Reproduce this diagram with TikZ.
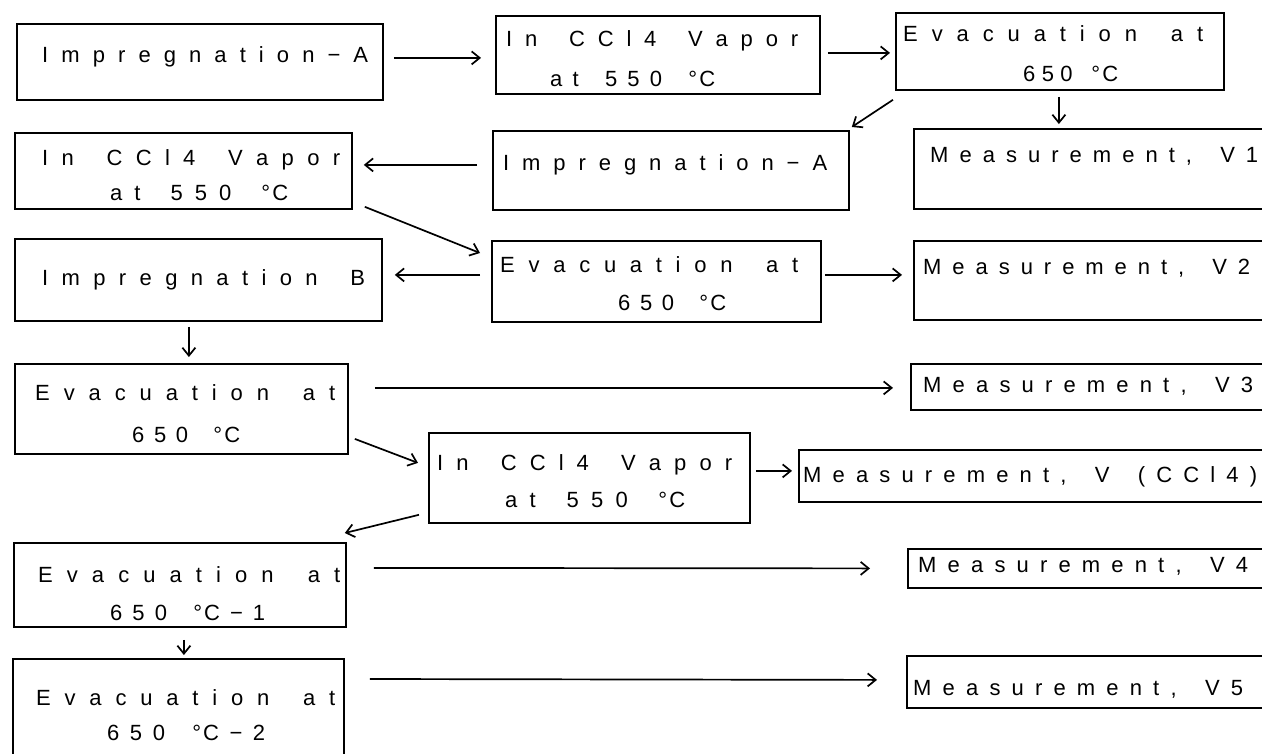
\documentclass[tikz,border=0pt]{standalone}
\usepackage{fontspec}
\setmainfont{Liberation Sans}
\usetikzlibrary{arrows.meta,calc}
\ExplSyntaxOn
\NewDocumentCommand \spreadtext { m m }
  {
    \hbox_to_wd:nn {#1}
      {
        \bool_set_true:N \l_tmpa_bool
        \tl_map_inline:nn {#2}
          {
            \bool_if:NTF \l_tmpa_bool
              { \bool_set_false:N \l_tmpa_bool }
              { \hfil }
            ##1
          }
      }
  }
\ExplSyntaxOff
\newcommand\degC{°\kern2pt C}
\begin{document}
\begin{tikzpicture}[x=1pt,y=-1pt,
  box/.style={draw,line width=1.8pt,rectangle,inner sep=0pt,anchor=north west},
  lbl/.style={anchor=base west,inner sep=0pt,font=\fontsize{22}{26}\selectfont},
  arr/.style={line width=1.7pt,-{Straight Barb[length=8pt,width=13pt,line width=1.7pt]}}]
\useasboundingbox (0,0) rectangle (1262,753);
\clip (0,0) rectangle (1262,753);
% boxes
\node[box,minimum width=366pt,minimum height=76pt] (imA1) at (16,23) {};
\node[box,minimum width=324pt,minimum height=78pt] (cclT) at (495,15) {};
\node[box,minimum width=328pt,minimum height=77pt] (evT) at (895,12) {};
\node[box,minimum width=337pt,minimum height=76pt] (ccl2) at (14,132) {};
\node[box,minimum width=356pt,minimum height=79pt] (imA2) at (492,130) {};
\node[box,minimum width=377pt,minimum height=80pt] (mV1) at (913,128) {};
\node[box,minimum width=367pt,minimum height=82pt] (imB) at (14,238) {};
\node[box,minimum width=329pt,minimum height=81pt] (ev3) at (491,240) {};
\node[box,minimum width=377pt,minimum height=79pt] (mV2) at (913,240) {};
\node[box,minimum width=333pt,minimum height=90pt] (ev4) at (14,363) {};
\node[box,minimum width=380pt,minimum height=46pt] (mV3) at (910,363) {};
\node[box,minimum width=321pt,minimum height=90pt] (ccl4) at (428,432) {};
\node[box,minimum width=492pt,minimum height=52pt] (mVc) at (798,449) {};
\node[box,minimum width=332pt,minimum height=84pt] (ev5) at (13,542) {};
\node[box,minimum width=383pt,minimum height=39pt] (mV4) at (907,548) {};
\node[box,minimum width=331pt,minimum height=132pt] (ev6) at (12,658) {};
\node[box,minimum width=384pt,minimum height=52pt] (mV5) at (906,655) {};
% texts
\node[lbl] (t1) at (42,62) {\spreadtext{326pt}{Impregnation−A}};
\node[lbl] (t2a) at (506,46) {\spreadtext{292pt}{In~CCl4~Vapor}};
\node[lbl] (t2b) at (550,86) {\spreadtext{165pt}{at~550~{\degC}}};
\node[lbl] (t3a) at (903,41) {\spreadtext{300pt}{Evacuation~at}};
\node[lbl] (t3b) at (1023,81) {\spreadtext{95pt}{650~{\degC}}};
\node[lbl] (t4a) at (42,165) {\spreadtext{298pt}{In~CCl4~Vapor}};
\node[lbl] (t4b) at (110,200) {\spreadtext{178pt}{at~550~{\degC}}};
\node[lbl] (t5) at (503,170) {\spreadtext{324pt}{Impregnation−A}};
\node[lbl] (t6) at (930,162) {\spreadtext{328pt}{Measurement,~V1}};
\node[lbl] (t7) at (42,285) {\spreadtext{323pt}{Impregnation~B}};
\node[lbl] (t8a) at (500,272) {\spreadtext{298pt}{Evacuation~at}};
\node[lbl] (t8b) at (618,310) {\spreadtext{108pt}{650~{\degC}}};
\node[lbl] (t9) at (923,274) {\spreadtext{327pt}{Measurement,~V2}};
\node[lbl] (t10a) at (35,400) {\spreadtext{300pt}{Evacuation~at}};
\node[lbl] (t10b) at (132,442) {\spreadtext{108pt}{650~{\degC}}};
\node[lbl] (t11) at (923,392) {\spreadtext{330pt}{Measurement,~V3}};
\node[lbl] (t12a) at (437,470) {\spreadtext{295pt}{In~CCl4~Vapor}};
\node[lbl] (t12b) at (505,507) {\spreadtext{180pt}{at~550~{\degC}}};
\node[lbl] (t13) at (803,482) {\spreadtext{454pt}{Measurement,~V~(CCl4)}};
\node[lbl] (t14a) at (38,582) {\spreadtext{302pt}{Evacuation~at}};
\node[lbl] (t14b) at (110,620) {\spreadtext{155pt}{650~{\degC}−1}};
\node[lbl] (t15) at (918,572) {\spreadtext{330pt}{Measurement,~V4}};
\node[lbl] (t16a) at (36,705) {\spreadtext{299pt}{Evacuation~at}};
\node[lbl] (t16b) at (107,740) {\spreadtext{158pt}{650~{\degC}−2}};
\node[lbl] (t17) at (913,695) {\spreadtext{330pt}{Measurement,~V5}};
% arrows
\draw[arr] ($(imA1.east)+(10,-4)$) -- ($(cclT.west)+(-14,3)$);
\draw[arr] ($(cclT.east)+(7,-2)$) -- ($(evT.west)+(-5,1.5)$);
\draw[arr] ($(evT.south west)+(-2,9)$) -- ($(imA2.north east)+(2,-3)$);
\draw[arr] ($(evT.south)+(-1,6)$) -- ($(evT.south |- mV1.north)+(-1,-4)$);
\draw[arr] ($(imA2.west)+(-15,-5.5)$) -- ($(ccl2.east)+(11,-6)$);
\draw[arr] ($(ccl2.south east)+(12,-3)$) -- ($(ev3.north west)+(-11,13)$);
\draw[arr] ($(ev3.west)+(-11,-6.5)$) -- ($(imB.east)+(12,-5)$);
\draw[arr] ($(ev3.east)+(3,-6.5)$) -- ($(mV2.west)+(-11,-5.5)$);
\draw[arr] ($(imB.south)+(-9.5,5)$) -- ($(imB.south |- ev4.north)+(-9.5,-6)$);
\draw[arr] ($(ev4.east)+(26,-21)$) -- ($(mV3.west)+(-17,1)$);
\draw[arr] ($(ev4.east)+(6,30)$) -- ($(ccl4.west)+(-10,-15)$);
\draw[arr] ($(ccl4.east)+(5,-7)$) -- ($(mVc.west)+(-6,-5)$);
\draw[arr] ($(ccl4.south west)+(-9,-9)$) -- ($(ev5.north east)+(-2,-9)$);
\draw[arr] ($(ev5.east)+(27,-17)$) -- ($(mV4.west)+(-37,0)$);
\draw[arr] ($(ev5.south)+(4,12)$) -- ($(ev5.south |- ev6.north)+(4,-3)$);
\draw[arr] ($(ev6.north east)+(25,21)$) -- ($(mV5.west)+(-29,-2)$);
\end{tikzpicture}
\end{document}
